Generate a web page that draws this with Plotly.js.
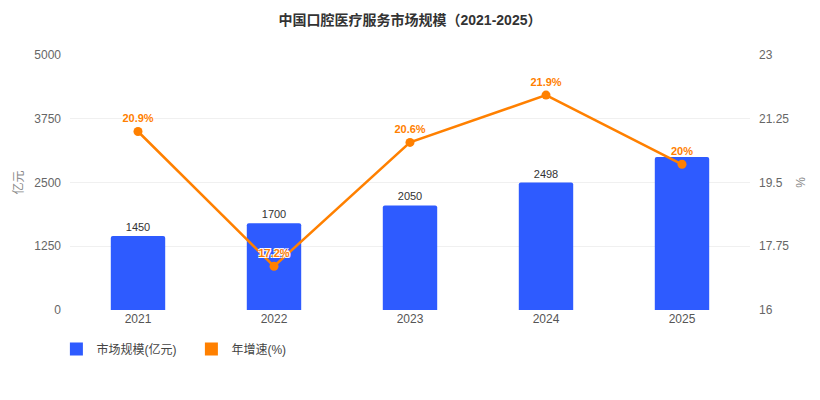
<!DOCTYPE html>
<html>
<head>
<meta charset="utf-8">
<script src="https://cdn.plot.ly/plotly-3.0.1.min.js"></script>
<style>
  html, body { margin: 0; padding: 0; background: #fff; }
  #chart { width: 820px; height: 400px; }
</style>
</head>
<body>
<div id="chart"></div>
<script>
// Data
var years = ['2021', '2022', '2023', '2024', '2025'];
var marketSize = [1450, 1700, 2050, 2498, 3000];   // 亿元
var growthRate = [20.9, 17.2, 20.6, 21.9, 20.0];   // %
var leftTicks = [0, 1250, 2500, 3750, 5000];
var rightTicks = [16, 17.75, 19.5, 21.25, 23];
var seriesNames = ['市场规模(亿元)', '年增速(%)'];
var seriesColors = ['#2e5bff', '#ff8000'];

// the 2025 bar label is hidden behind the line label in the original
var barLabels = marketSize.map(function(v, i) {
    return i === marketSize.length - 1 ? '' : String(v);
});
var rateLabels = growthRate.map(function(v) { return v + '%'; });

var fontFamily = '"Liberation Sans", Arial, "Noto Sans CJK SC", sans-serif';
var whiteOutline = '1px 1px 0 #fff, -1px -1px 0 #fff, 1px -1px 0 #fff, -1px 1px 0 #fff';

var barTrace = {
    type: 'bar',
    name: seriesNames[0],
    x: years,
    y: marketSize,
    text: barLabels,
    textposition: 'outside',
    cliponaxis: false,
    textfont: {size: 11, color: '#333'},
    marker: {color: seriesColors[0], cornerradius: 2},
    showlegend: false,
    hoverinfo: 'x+y'
};

var lineTrace = {
    type: 'scatter',
    mode: 'lines+markers+text',
    name: seriesNames[1],
    x: years,
    y: growthRate,
    yaxis: 'y2',
    text: rateLabels,
    textposition: 'top center',
    cliponaxis: false,
    textfont: {size: 11, color: seriesColors[1], weight: 'bold', shadow: whiteOutline},
    line: {color: seriesColors[1], width: 2.5},
    marker: {color: seriesColors[1], size: 9},
    showlegend: false
};

// legend shows square swatches for both series, so use empty legend-only entries
var legendTraces = seriesNames.map(function(name, i) {
    return {
        type: 'scatter',
        mode: 'markers',
        name: name,
        x: [null],
        y: [null],
        marker: {symbol: 'square', size: 13, color: seriesColors[i]},
        hoverinfo: 'skip'
    };
});

var layout = {
    width: 820,
    height: 400,
    margin: {l: 70, r: 70, t: 55, b: 90},
    paper_bgcolor: '#fff',
    plot_bgcolor: '#fff',
    font: {family: fontFamily, size: 12, color: '#666'},
    title: {
        text: '中国口腔医疗服务市场规模（2021-2025）',
        font: {size: 14, color: '#333', weight: 'bold'},
        x: 0.5,
        y: 0.95,
        yref: 'container',
        yanchor: 'middle'
    },
    bargap: 0.6,
    showlegend: true,
    legend: {
        orientation: 'h',
        x: -0.02,
        y: -0.153,
        xanchor: 'left',
        yanchor: 'middle',
        font: {size: 12, color: '#444'},
        entrywidth: 90,
        itemwidth: 30,
        traceorder: 'normal'
    },
    xaxis: {
        type: 'category',
        showline: false,
        ticks: '',
        tickfont: {size: 12, color: '#555'}
    },
    yaxis: {
        range: [0, 5000],
        tickvals: leftTicks,
        gridcolor: '#f0f0f0',
        zeroline: false,
        ticks: '',
        ticklabelstandoff: 8,
        tickfont: {size: 12, color: '#666'},
        title: {text: '亿元', font: {size: 12, color: '#888'}, standoff: 8}
    },
    yaxis2: {
        overlaying: 'y',
        side: 'right',
        range: [16, 23],
        tickvals: rightTicks,
        showgrid: false,
        zeroline: false,
        ticklabelstandoff: 8,
        tickfont: {size: 12, color: '#666'},
        title: {text: '%', font: {size: 12, color: '#888'}, standoff: 8}
    }
};

Plotly.newPlot('chart', [barTrace, lineTrace].concat(legendTraces), layout,
    {displayModeBar: false, responsive: false});
</script>
</body>
</html>
